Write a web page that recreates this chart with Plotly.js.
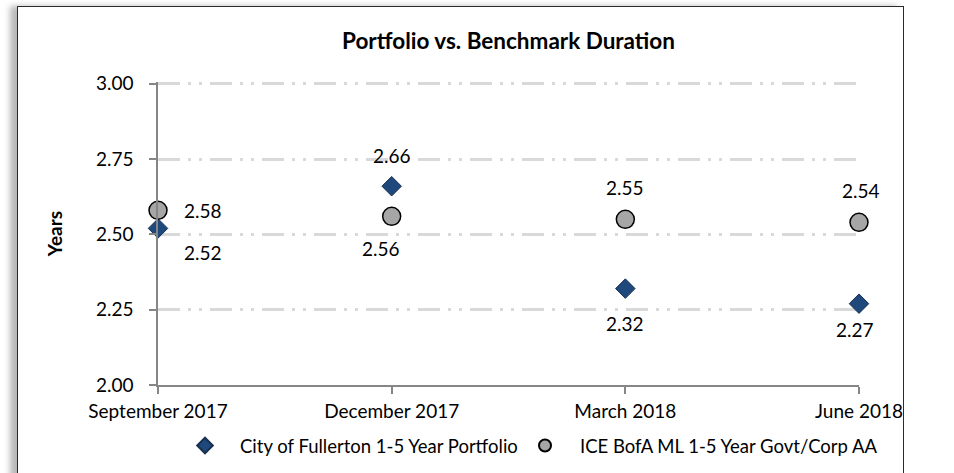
<!DOCTYPE html>
<html>
<head>
<meta charset="utf-8">
<script src="https://cdn.plot.ly/plotly-3.0.1.min.js"></script>
<style>
  body { margin: 0; background: #fff; }
  #frame {
    position: absolute; left: 17px; top: 6px; width: 885px; height: 520px;
    border: 1.5px solid #2b2b2b; background: #fff;
    box-shadow: -7px 0 6px rgba(0,0,0,0.28);
  }
  #chart { position: absolute; left: 0; top: 0; width: 954px; height: 473px; }
</style>
</head>
<body>
<div id="frame"></div>
<div id="chart"></div>
<script>
// quarters on the x axis
var quarters = ["September 2017", "December 2017", "March 2018", "June 2018"];

// duration in years
var portfolio = [2.52, 2.66, 2.32, 2.27];
var benchmark = [2.58, 2.56, 2.55, 2.54];

var seriesNames = ["City of Fullerton 1-5 Year Portfolio", "ICE BofA ML 1-5 Year Govt/Corp AA"];

var tracePortfolio = {
  x: quarters,
  y: portfolio,
  name: seriesNames[0],
  legend: "legend",
  type: "scatter",
  mode: "markers",
  marker: { symbol: "diamond", size: 15, color: "#1f497d", line: { color: "#17314f", width: 1 } },
  cliponaxis: false
};

var traceBenchmark = {
  x: quarters,
  y: benchmark,
  name: seriesNames[1],
  legend: "legend2",
  type: "scatter",
  mode: "markers",
  marker: { symbol: "circle", size: 18, color: "#a6a6a6", line: { color: "#000", width: 1.5 } },
  cliponaxis: false
};

// label offsets (px) for each point label
var portShift = [[45, -24], [0, 31], [0, -35], [-4, -26]];
var benchShift = [[45, 0], [-11, -32], [0, 32], [2, 32]];

var annotations = [];
quarters.forEach(function (q, i) {
  annotations.push({
    x: q, y: portfolio[i], text: portfolio[i].toFixed(2), showarrow: false,
    xshift: portShift[i][0], yshift: portShift[i][1],
    font: { family: "Lato", size: 19, color: "#000" }
  });
  annotations.push({
    x: q, y: benchmark[i], text: benchmark[i].toFixed(2), showarrow: false,
    xshift: benchShift[i][0], yshift: benchShift[i][1],
    font: { family: "Lato", size: 19, color: "#000" }
  });
});

var W = 954, H = 473;
var M = { l: 158, r: 95, t: 82, b: 88, autoexpand: false };

// place a one-item legend at a pixel position, in paper units
function legendAt(xPx) {
  var pw = W - M.l - M.r, ph = H - M.t - M.b;
  return {
    x: (xPx - M.l) / pw, xanchor: "left",
    y: (H - M.b - 446) / ph, yanchor: "middle",
    font: { family: "Lato", size: 18.5, color: "#000" },
    itemsizing: "constant",
    itemwidth: 60,
    bgcolor: "rgba(0,0,0,0)"
  };
}

var layout = {
  width: W,
  height: H,
  margin: M,
  paper_bgcolor: "rgba(0,0,0,0)",
  plot_bgcolor: "rgba(0,0,0,0)",
  font: { family: "Lato", size: 19, color: "#000" },
  title: {
    text: "<b>Portfolio vs. Benchmark Duration</b>",
    font: { family: "Lato", size: 22.5, color: "#000" },
    x: 0.5, xref: "paper", xanchor: "center",
    y: 41, yref: "container", yanchor: "middle"
  },
  xaxis: {
    type: "category",
    range: [0, 3],
    showgrid: false,
    showline: true, linecolor: "#868686", linewidth: 1.5,
    ticks: "outside", ticklen: 7, tickcolor: "#868686", tickwidth: 1.5,
    ticklabelstandoff: 1,
    tickfont: { family: "Lato", size: 19 },
    zeroline: false
  },
  yaxis: {
    range: [2, 3.006],
    tickvals: [2, 2.25, 2.5, 2.75, 3],
    tickformat: ".2f",
    showgrid: true, gridcolor: "#d9d9d9", gridwidth: 2.5,
    griddash: "22px,8px,3px,8px,3px,8px",
    showline: true, linecolor: "#868686", linewidth: 1.5,
    ticks: "outside", ticklen: 7, tickcolor: "#868686", tickwidth: 1.5,
    ticklabelstandoff: 12,
    tickfont: { family: "Lato", size: 19 },
    zeroline: false,
    title: { text: "<b>Years</b>", font: { family: "Lato", size: 19 }, standoff: 28 }
  },
  showlegend: true,
  legend: legendAt(170),
  legend2: legendAt(510),
  annotations: annotations
};

Plotly.newPlot("chart", [tracePortfolio, traceBenchmark], layout, { displayModeBar: false });
</script>
</body>
</html>
